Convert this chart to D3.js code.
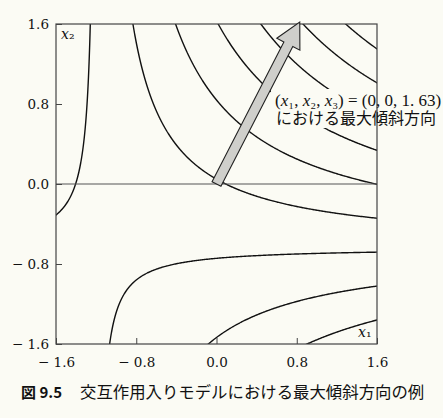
<!DOCTYPE html>
<html>
<head>
<meta charset="utf-8">
<script src="https://cdn.jsdelivr.net/npm/d3@7"></script>
<style>
body { margin: 0; background: #fbfbf4; }
svg { display: block; }
</style>
</head>
<body>
<svg width="443" height="418"></svg>
<script>
// 交互作用モデル (x3 = 1.63 で固定): y = b0 + b1*x1 + b2*x2 + b12*x1*x2
var termNames = ["const", "x1", "x2", "x1x2"]
var termCoef = [0.762, 0.635, 1.2, 1.0]

// 等高線の高さ (読み取り値)
var levels = [-2.03, -1.08, -0.13, 0.82, 1.77, 2.72, 3.67, 4.61, 5.56]

var tickValues = [-1.6, -0.8, 0.0, 0.8, 1.6]
var tickLabels = ["− 1.6", "− 0.8", "0.0", "0.8", "1.6"]

// 最大傾斜方向の矢印 (始点と先端)
var arrowFrom = [0.0, 0.0]
var arrowTo = [0.83, 1.62]

var svg = d3.select("svg")
var pLeft = 56, pRight = 377, pTop = 24, pBottom = 344

var xs = d3.scaleLinear().domain([-1.6, 1.6]).range([pLeft, pRight])
var ys = d3.scaleLinear().domain([-1.6, 1.6]).range([pBottom, pTop])

function model(x1, x2) {
	return termCoef[0] + termCoef[1] * x1 + termCoef[2] * x2 + termCoef[3] * x1 * x2
}

// グリッドは描画範囲より少し広く取り、枠でクリップする
var ext = 1.8, step = 0.01
var n = Math.round(2 * ext / step) + 1
var values = new Array(n * n)
for (var j = 0; j < n; j++) {
	for (var i = 0; i < n; i++) {
		values[j * n + i] = model(-ext + i * step, -ext + j * step)
	}
}

var contours = d3.contours().size([n, n]).thresholds(levels)(values)

var toScreen = d3.geoTransform({
	point: function(x, y) {
		this.stream.point(xs(-ext + (x - 0.5) * step), ys(-ext + (y - 0.5) * step))
	}
})
var path = d3.geoPath(toScreen)

svg.append("clipPath").attr("id", "plot")
	.append("rect")
	.attr("x", pLeft).attr("y", pTop)
	.attr("width", pRight - pLeft).attr("height", pBottom - pTop)

svg.append("g")
	.attr("clip-path", "url(#plot)")
	.selectAll("path")
	.data(contours)
	.enter()
	.append("path")
	.attr("d", path)
	.attr("fill", "none")
	.attr("stroke", "#111")
	.attr("stroke-width", 1.4)

// ラベルの下の等高線を隠す
svg.append("rect")
	.attr("x", 271).attr("y", 89)
	.attr("width", pRight - 271).attr("height", 39)
	.attr("fill", "#fbfbf4")

// x2 = 0 の線
svg.append("line")
	.attr("x1", pLeft).attr("x2", pRight)
	.attr("y1", ys(0)).attr("y2", ys(0))
	.attr("stroke", "#555").attr("stroke-width", 1.2)

// 枠
svg.append("rect")
	.attr("x", pLeft).attr("y", pTop)
	.attr("width", pRight - pLeft).attr("height", pBottom - pTop)
	.attr("fill", "none")
	.attr("stroke", "#444").attr("stroke-width", 1.2)

// 内向きの目盛り
var xAxis = d3.axisBottom(xs).tickValues(tickValues).tickSize(-6).tickFormat(function(d, i) { return tickLabels[i] })
var yAxis = d3.axisLeft(ys).tickValues(tickValues).tickSize(-6).tickFormat(function(d, i) { return tickLabels[i] })

var gx = svg.append("g").attr("transform", "translate(0," + pBottom + ")").call(xAxis)
var gy = svg.append("g").attr("transform", "translate(" + pLeft + ",0)").call(yAxis)

;[gx, gy].forEach(function(g) {
	g.select(".domain").remove()
	g.selectAll(".tick line").attr("stroke", "#444").attr("stroke-width", 1)
	g.selectAll(".tick text")
		.attr("fill", "#111")
		.style("font-family", "'DejaVu Serif', serif")
		.style("font-size", "13.5px")
})
gx.selectAll(".tick text").attr("y", 13)
gy.selectAll(".tick text").attr("x", -7)

// 矢印
var p0 = [xs(arrowFrom[0]), ys(arrowFrom[1])]
var p1 = [xs(arrowTo[0]), ys(arrowTo[1])]
var dx = p1[0] - p0[0], dy = p1[1] - p0[1]
var len = Math.sqrt(dx * dx + dy * dy)
var ux = dx / len, uy = dy / len
var vx = -uy, vy = ux
var shaft = 5, head = 13, headLen = 25
var neck = [p1[0] - ux * headLen, p1[1] - uy * headLen]
var arrowPts = [
	[p0[0] + vx * shaft, p0[1] + vy * shaft],
	[neck[0] + vx * shaft, neck[1] + vy * shaft],
	[neck[0] + vx * head, neck[1] + vy * head],
	p1,
	[neck[0] - vx * head, neck[1] - vy * head],
	[neck[0] - vx * shaft, neck[1] - vy * shaft],
	[p0[0] - vx * shaft, p0[1] - vy * shaft]
]
svg.append("path")
	.attr("d", d3.line()(arrowPts) + "Z")
	.attr("fill", "#cfcfcb")
	.attr("stroke", "#222")
	.attr("stroke-width", 1.1)
	.attr("stroke-linejoin", "miter")

// 軸名
svg.append("text").attr("x", 61).attr("y", 39)
	.style("font-family", "'DejaVu Serif', serif").style("font-size", "14px").attr("fill", "#111")
	.html("<tspan font-style='italic'>x</tspan>₂")
svg.append("text").attr("x", 358).attr("y", 337)
	.style("font-family", "'DejaVu Serif', serif").style("font-size", "14px").attr("fill", "#111")
	.html("<tspan font-style='italic'>x</tspan>₁")

// 注記
svg.append("text").attr("x", 275).attr("y", 106)
	.style("font-family", "'Liberation Serif', serif").style("font-size", "17px").attr("fill", "#111")
	.html("(<tspan font-style='italic'>x</tspan>₁, <tspan font-style='italic'>x</tspan>₂, <tspan font-style='italic'>x</tspan>₃) = (0, 0, 1. 63)")

svg.append("text").attr("x", 276).attr("y", 124)
	.style("font-family", "'Noto Sans CJK JP', sans-serif").style("font-size", "16px").attr("fill", "#111")
	.text("における最大傾斜方向")

// 図番号とキャプション
svg.append("text").attr("x", 21).attr("y", 398).attr("fill", "#111")
	.style("font-family", "'Noto Sans CJK JP', sans-serif").style("font-size", "15px").style("font-weight", "bold")
	.text("図 9.5")
svg.append("text").attr("x", 80).attr("y", 398).attr("fill", "#111")
	.style("font-family", "'Noto Sans CJK JP', sans-serif").style("font-size", "16.4px")
	.text("交互作用入りモデルにおける最大傾斜方向の例")
</script>
</body>
</html>
